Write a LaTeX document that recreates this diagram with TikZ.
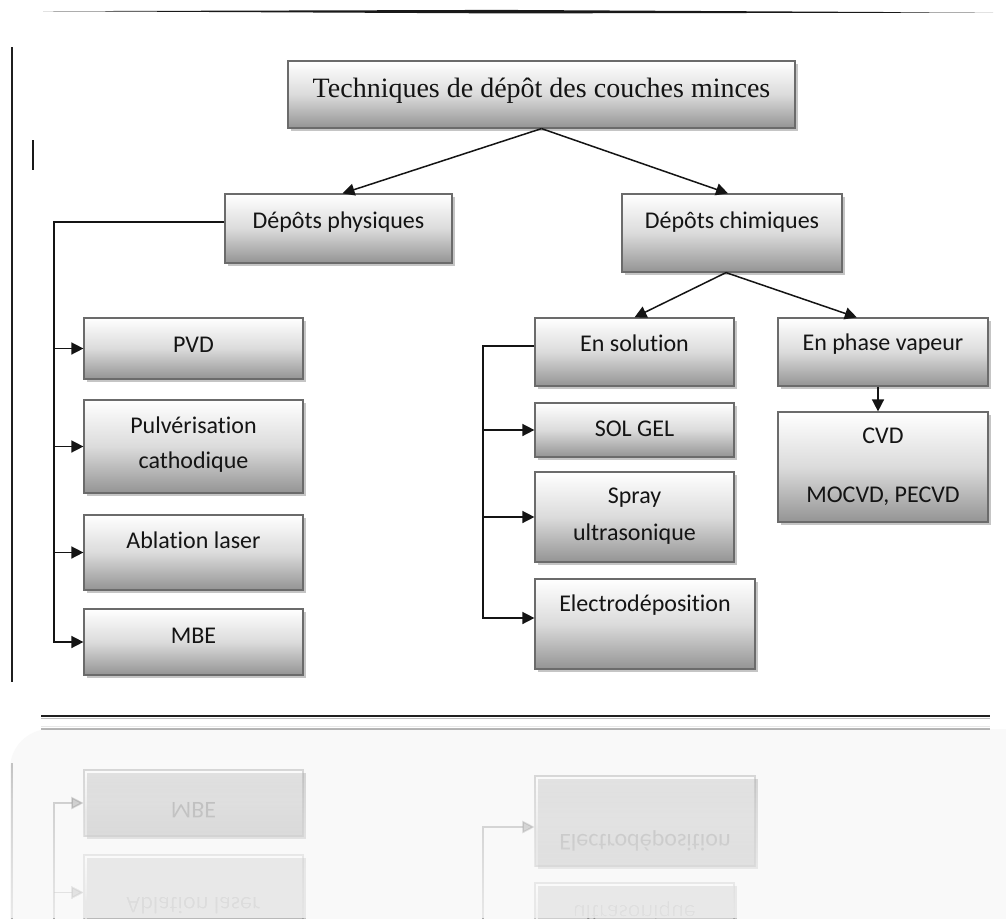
\documentclass[tikz,border=0pt]{standalone}
\usepackage{fontspec}
\setmainfont{Carlito}[Ligatures=NoCommon]
\newfontfamily\titlefont{Liberation Serif}
\usetikzlibrary{arrows.meta,shadows,calc}

\tikzset{
  box/.style={draw=black!58, line width=1.2pt, top color=white, bottom color=black!42, middle color=black!14,
    anchor=base, inner xsep=0pt, inner ysep=0pt, align=center,
    font=\fontsize{24}{35}\selectfont, text=black!92,
    drop shadow={shadow xshift=3pt, shadow yshift=-3pt, fill=black!45, opacity=0.5}},
  conn/.style={line width=1.5pt, draw=black!92},
  arr/.style={conn, -{Triangle[length=12pt,width=12pt]}},
  frameline/.style={line width=1.6pt, draw=black!88},
}

% boxes that also appear in the reflection
\newcommand\lowerleft{%
  \node[box, minimum width=219pt, text height=33pt, text depth=42pt] (abl) at (193.5,548) {Ablation laser};
  \node[box, minimum width=219pt, text height=34pt, text depth=32pt] (mbe) at (193.5,643) {MBE};
  \node[box, minimum width=220pt, text height=32pt, text depth=58pt] (electro) at (645,611) {Electrodéposition};
  \draw[frameline] (12,47) -- (12,682);
  \draw[frameline, line width=2pt] (41,716) -- (990,716);
  \draw[line width=1.4pt, black!25] (41,718.5) -- (990,718.5);
}

\begin{document}
\begin{tikzpicture}[x=1pt,y=-1pt]
  \useasboundingbox (0,0) rectangle (1006,918);
  \fill[white] (0,0) rectangle (1006,918);
  % top tapered line and small mark
  \fill[black!90] (43,11.2) -- (500,9.9) -- (993,12.6) -- (500,13.4) -- cycle;
  \draw[line width=2pt, black!90] (33,140) -- (33,170);
  % boxes
  \node[box, minimum width=507pt, text height=36pt, text depth=31pt,
        font=\titlefont\fontsize{28}{34}\selectfont] (title) at (541.5,97) {Techniques de dépôt des couches minces};
  \node[box, minimum width=227pt, text height=34pt, text depth=35pt] (phys) at (338.5,228) {Dépôts physiques};
  \node[box, minimum width=220pt, text height=34pt, text depth=44pt] (chim) at (732,228) {Dépôts chimiques};
  \node[box, minimum width=219pt, text height=34pt, text depth=27pt] (pvd) at (193.5,352) {PVD};
  \node[box, minimum width=219pt, text height=68pt, text depth=25pt] (pulv) at (193.5,468) {Pulvérisation\\cathodique};
  \node[box, minimum width=199pt, text height=33pt, text depth=35pt] (sol) at (634.5,351) {En solution};
  \node[box, minimum width=199pt, text height=33pt, text depth=21pt] (solgel) at (634.5,436) {SOL GEL};
  \node[box, minimum width=199pt, text height=68pt, text depth=22pt] (spray) at (634.5,540) {Spray\\[2pt]ultrasonique};
  \node[box, minimum width=210pt, text height=32pt, text depth=36pt] (vap) at (883,350) {En phase vapeur};
  \node[box, minimum width=210pt, text height=90pt, text depth=20pt] (cvd) at (883,502) {CVD\\[24pt]MOCVD, PECVD};
  \lowerleft
  % connectors
  \draw[arr] (title.south) -- ($(phys.north)+(4,0)$);
  \draw[arr] (title.south) -- ($(chim.north)+(-4,0)$);
  \draw[arr] ($(chim.south)+(-6,0)$) -- (sol.north);
  \draw[arr] ($(chim.south)+(-6,0)$) -- ($(vap.north west)!0.376!(vap.north east)$);
  \draw[arr] ($(vap.south)+(-5,0)$) -- ($(cvd.north)+(-5,0)$);
  \coordinate (busL) at (54,222);
  \draw[arr] (phys.west |- busL) -- (busL) |- (mbe.west);
  \foreach \n in {pvd,pulv,abl} \draw[arr] (busL |- \n.west) -- (\n.west);
  \coordinate (busR) at (483,346);
  \draw[arr] (sol.west |- busR) -- (busR) |- ($(electro.west)+(0,-6)$);
  \foreach \n in {solgel,spray} \draw[arr] (busR |- \n.west) -- (\n.west);
  % reflection
  \begin{scope}
    \clip (0,723) rectangle (1006,918);
    \fill[black!2.5, rounded corners=40pt] (10,729) rectangle (1060,980);
    \begin{scope}[shift={(0,1445)}, yscale=-1, transform shape, opacity=0.35, name prefix=r-]
      \lowerleft
      \node[box, minimum width=199pt, text height=68pt, text depth=22pt] (spray) at (634.5,540) {ultrasonique};
      \coordinate (busL) at (54,500);
      \draw[arr] (busL) |- (mbe.west);
      \draw[arr] (busL |- abl.west) -- (abl.west);
      \coordinate (busR) at (483,500);
      \draw[arr] (busR) |- ($(electro.west)+(0,-6)$);
      \draw[arr] (busR |- spray.west) -- (spray.west);
    \end{scope}
    \foreach \i in {0,...,38} {
      \fill[white, opacity=0.045] (0,{723+\i*5}) rectangle (1006,918);
    }
  \end{scope}
\end{tikzpicture}
\end{document}
